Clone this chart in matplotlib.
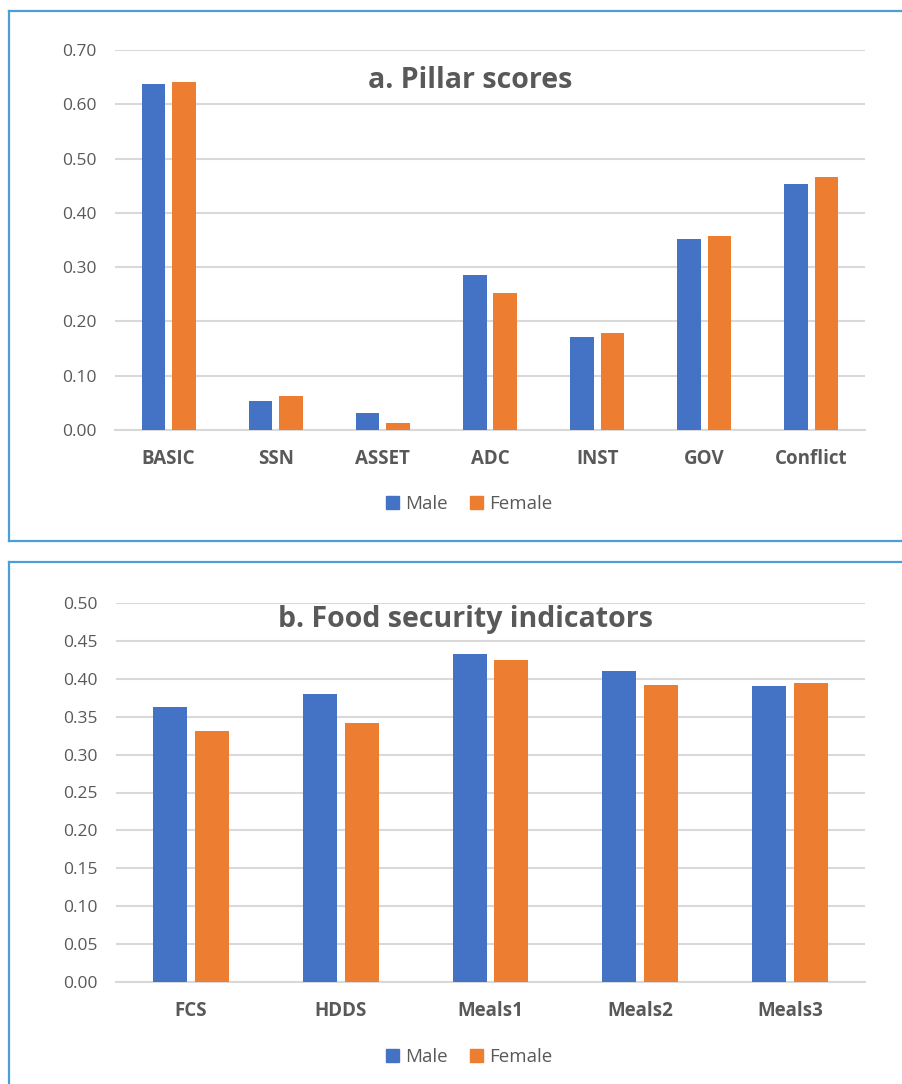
import matplotlib.pyplot as plt
import numpy as np
from matplotlib.lines import Line2D
from matplotlib.patches import Patch

plt.rcParams['font.family'] = ['Open Sans', 'DejaVu Sans']

# pillar scores by sex of household head
pillars = ['BASIC', 'SSN', 'ASSET', 'ADC', 'INST', 'GOV', 'Conflict']
pillar_male = [0.637, 0.054, 0.031, 0.285, 0.171, 0.352, 0.453]
pillar_female = [0.641, 0.062, 0.013, 0.252, 0.179, 0.357, 0.466]

# food security indicators by sex of household head
food = ['FCS', 'HDDS', 'Meals1', 'Meals2', 'Meals3']
food_male = [0.363, 0.380, 0.433, 0.410, 0.390]
food_female = [0.331, 0.342, 0.425, 0.392, 0.395]

BLUE = '#4472C4'
ORANGE = '#ED7D31'
GREY = '#595959'
GRID = '#d9d9d9'
FRAME = '#4a9fd8'

W, H = 903, 1084
fig = plt.figure(figsize=(W / 100, H / 100), dpi=100)


def px_axes(x0, y0, x1, y1):
    # axes placed from pixel box (top-left origin)
    return fig.add_axes([x0 / W, 1 - y1 / H, (x1 - x0) / W, (y1 - y0) / H])


def frame(y_top, y_bot):
    kw = dict(color=FRAME, lw=1.6, transform=fig.transFigure)
    fig.add_artist(Line2D([9 / W, 1.01], [1 - y_top / H] * 2, **kw))
    fig.add_artist(Line2D([9 / W, 9 / W], [1 - y_top / H, 1 - y_bot / H], **kw))
    if y_bot < H:
        fig.add_artist(Line2D([9 / W, 1.01], [1 - y_bot / H] * 2, **kw))


def panel(ax, cats, male, female, ymax, step, title, title_xy, width, gap, legend_y):
    x = np.arange(len(cats))
    off = (width + gap) / 2
    ax.bar(x - off, male, width, color=BLUE, label='Male', zorder=3)
    ax.bar(x + off, female, width, color=ORANGE, label='Female', zorder=3)
    ax.set_xlim(-0.5, len(cats) - 0.5)
    ax.set_ylim(0, ymax)
    ticks = np.arange(0, ymax + step / 2, step)
    ax.set_yticks(ticks)
    ax.set_yticklabels(['{:.2f}'.format(t) for t in ticks])
    ax.yaxis.grid(True, color=GRID, lw=1.5, zorder=0)
    ax.set_xticks(x)
    ax.set_xticklabels(cats, fontweight='bold')
    for s in ['top', 'right', 'left']:
        ax.spines[s].set_visible(False)
    ax.spines['bottom'].set_color(GRID)
    ax.spines['bottom'].set_linewidth(1.5)
    ax.tick_params(axis='y', length=0, pad=13, labelsize=12.5, labelcolor=GREY)
    ax.tick_params(axis='x', length=0, pad=14, labelsize=13.5, labelcolor=GREY)
    fig.text(title_xy[0] / W, 1 - title_xy[1] / H, title, fontsize=20.5,
             fontweight='bold', color=GREY, ha='center', va='center')
    handles = [Patch(color=BLUE, label='Male'), Patch(color=ORANGE, label='Female')]
    fig.legend(handles=handles, loc='center', bbox_to_anchor=(469 / W, 1 - legend_y / H),
               ncol=2, frameon=False, fontsize=13.5, handlelength=0.7, handleheight=0.7,
               handletextpad=0.3, columnspacing=1.2, labelcolor=GREY)


frame(11, 541)
frame(562, H + 10)

ax1 = px_axes(115, 50, 865, 430)
panel(ax1, pillars, pillar_male, pillar_female, 0.70, 0.10,
      'a. Pillar scores', (470, 81), 0.22, 0.065, 504)

ax2 = px_axes(116, 603, 865, 982)
panel(ax2, food, food_male, food_female, 0.50, 0.05,
      'b. Food security indicators', (466, 620), 0.227, 0.053, 1057)

fig.savefig('out.png', dpi=100, facecolor='white')
